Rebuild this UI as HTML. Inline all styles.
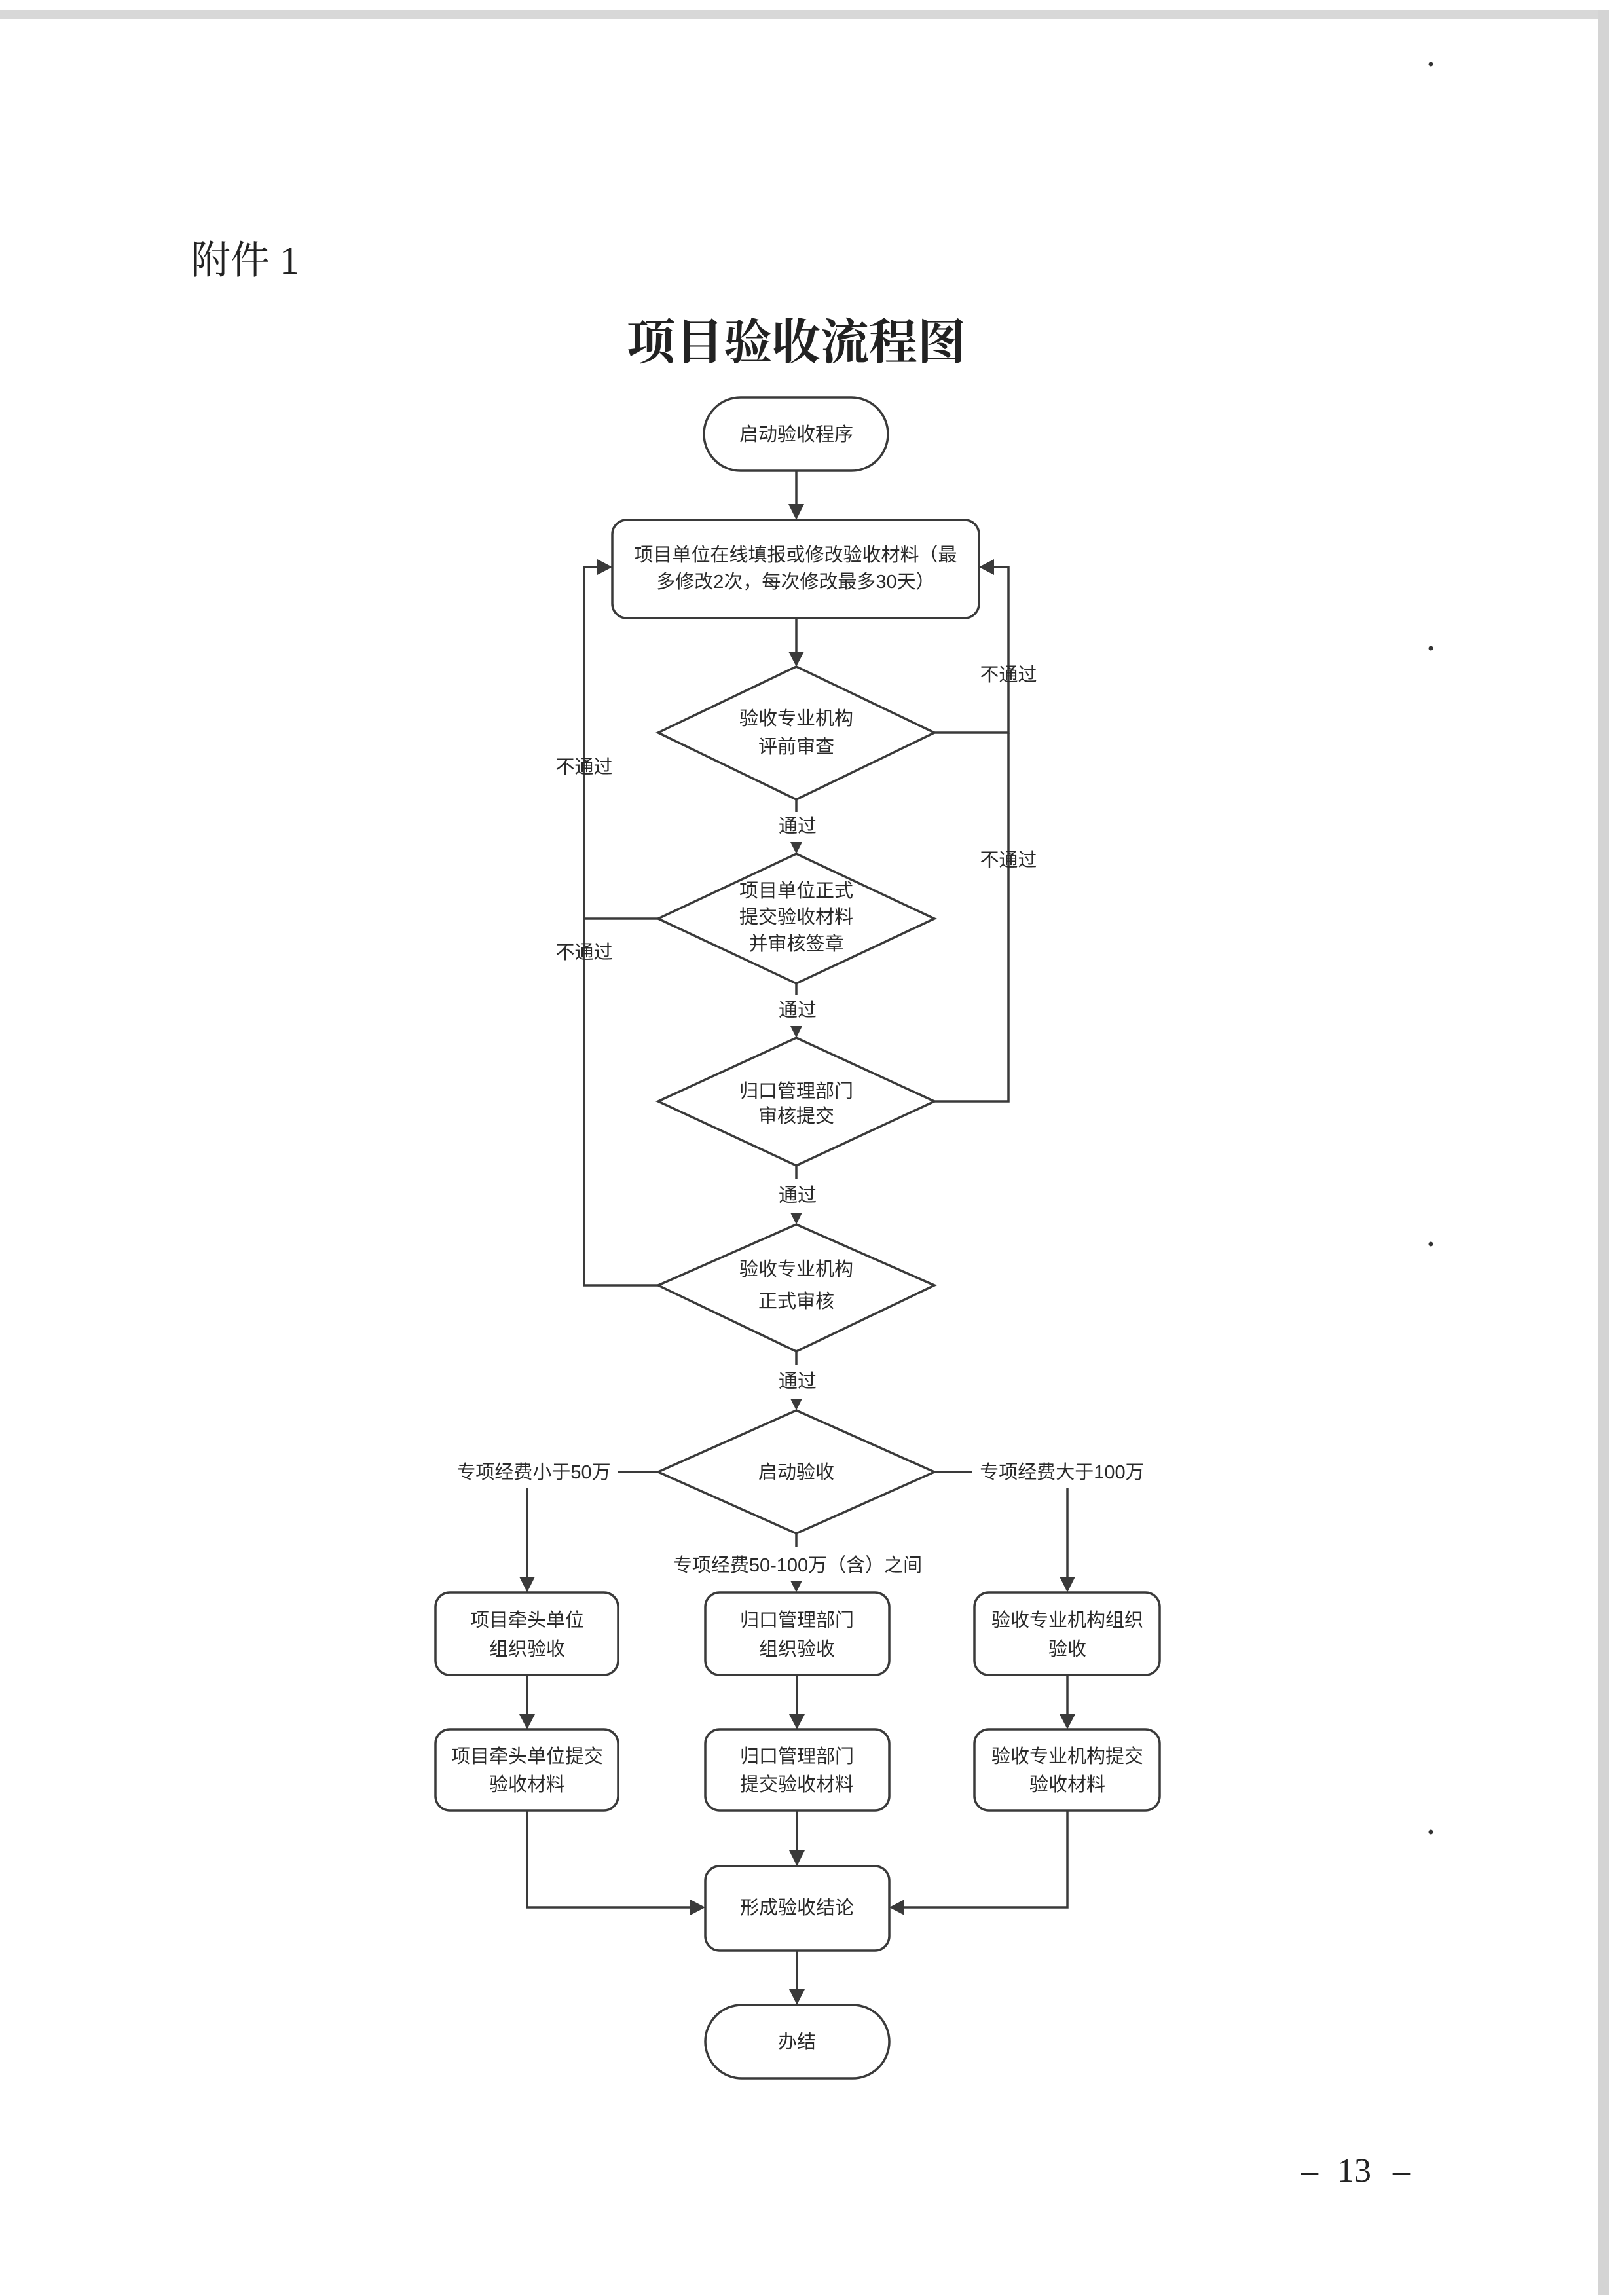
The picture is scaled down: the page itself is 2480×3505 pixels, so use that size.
<!DOCTYPE html>
<html><head><meta charset="utf-8"><style>
html,body{margin:0;padding:0;background:#fff}
svg{display:block}
</style></head><body>
<svg xmlns="http://www.w3.org/2000/svg" width="2480" height="3505" viewBox="0 0 2480 3505">
<rect x="0" y="0" width="2480" height="3505" fill="#fff"/>
<rect x="0" y="15" width="2445" height="14" fill="#d8d8d8"/>
<rect x="2441" y="15" width="16" height="3490" fill="#d4d4d4"/>
<circle cx="2185" cy="98" r="3.5" fill="#333"/>
<circle cx="2185" cy="990" r="3.5" fill="#333"/>
<circle cx="2185" cy="1900" r="3.5" fill="#333"/>
<circle cx="2185" cy="2798" r="3.5" fill="#333"/>

<g font-family="'Liberation Serif','Noto Serif CJK SC',serif" fill="#222">
<text x="292" y="418" font-size="60">附件 1</text>
<text x="1216" y="548" font-size="74" font-weight="bold" text-anchor="middle">项目验收流程图</text>
<text x="2000" y="3332" font-size="52" text-anchor="middle">–</text>
<text x="2068" y="3332" font-size="52" text-anchor="middle">13</text>
<text x="2140" y="3332" font-size="52" text-anchor="middle">–</text>
</g>

<g fill="none" stroke="#3a3a3a" stroke-width="3.5">
<rect x="1075" y="607" width="281" height="112" rx="56"/>
<rect x="935" y="794" width="560" height="150" rx="22"/>
<polygon points="1216,1018 1427,1119 1216,1221 1005,1119"/>
<polygon points="1216,1304 1427,1403 1216,1502 1005,1403"/>
<polygon points="1216,1585 1427,1682 1216,1780 1005,1682"/>
<polygon points="1216,1870 1427,1963 1216,2064 1005,1963"/>
<polygon points="1216,2154 1427,2248 1216,2342 1005,2248"/>
<rect x="665" y="2432" width="279" height="126" rx="22"/>
<rect x="1077" y="2432" width="281" height="126" rx="22"/>
<rect x="1488" y="2432" width="283" height="126" rx="22"/>
<rect x="665" y="2641" width="279" height="124" rx="22"/>
<rect x="1077" y="2641" width="281" height="124" rx="22"/>
<rect x="1488" y="2641" width="283" height="124" rx="22"/>
<rect x="1077" y="2850" width="281" height="129" rx="22"/>
<rect x="1077" y="3062" width="281" height="112" rx="56"/>
<line x1="1216" y1="719" x2="1216" y2="770"/>
<line x1="1216" y1="944" x2="1216" y2="995"/>
<line x1="1216" y1="1221" x2="1216" y2="1240"/>
<line x1="1216" y1="1502" x2="1216" y2="1520"/>
<line x1="1216" y1="1780" x2="1216" y2="1800"/>
<line x1="1216" y1="2064" x2="1216" y2="2085"/>
<line x1="1216" y1="2342" x2="1216" y2="2362"/>
<polyline points="1005,1403 892,1403 892,866 912,866"/>
<polyline points="1005,1963 892,1963 892,1403"/>
<polyline points="1427,1119 1540,1119 1540,866 1518,866"/>
<polyline points="1427,1682 1540,1682 1540,1119"/>
<line x1="944" y1="2248" x2="1005" y2="2248"/>
<line x1="1427" y1="2248" x2="1484" y2="2248"/>
<line x1="805" y1="2272" x2="805" y2="2410"/>
<line x1="1630" y1="2272" x2="1630" y2="2410"/>
<line x1="805" y1="2558" x2="805" y2="2620"/>
<line x1="1217" y1="2558" x2="1217" y2="2620"/>
<line x1="1630" y1="2558" x2="1630" y2="2620"/>
<line x1="1217" y1="2765" x2="1217" y2="2828"/>
<polyline points="805,2765 805,2913 1055,2913"/>
<polyline points="1630,2765 1630,2913 1380,2913"/>
<line x1="1217" y1="2979" x2="1217" y2="3040"/>
</g>
<g fill="#3a3a3a">
<polygon points="1204,770 1228,770 1216,794"/>
<polygon points="1204,995 1228,995 1216,1018"/>
<polygon points="1207,1286 1225,1286 1216,1304"/>
<polygon points="1207,1567 1225,1567 1216,1585"/>
<polygon points="1207,1852 1225,1852 1216,1870"/>
<polygon points="1207,2136 1225,2136 1216,2154"/>
<polygon points="1207,2414 1225,2414 1216,2432"/>
<polygon points="912,854 912,878 935,866"/>
<polygon points="1518,854 1518,878 1495,866"/>
<polygon points="793,2408 817,2408 805,2432"/>
<polygon points="1618,2408 1642,2408 1630,2432"/>
<polygon points="793,2618 817,2618 805,2641"/>
<polygon points="1205,2618 1229,2618 1217,2641"/>
<polygon points="1618,2618 1642,2618 1630,2641"/>
<polygon points="1205,2826 1229,2826 1217,2850"/>
<polygon points="1054,2901 1054,2925 1077,2913"/>
<polygon points="1381,2901 1381,2925 1358,2913"/>
<polygon points="1205,3038 1229,3038 1217,3062"/>
</g>

<g font-family="'Liberation Sans','Noto Sans CJK SC',sans-serif" font-size="29" fill="#2a2a2a" text-anchor="middle">
<text x="1216" y="673">启动验收程序</text>
<text x="1215" y="857">项目单位在线填报或修改验收材料（最</text>
<text x="1215" y="898">多修改2次，每次修改最多30天）</text>
<text x="1216" y="1107">验收专业机构</text>
<text x="1216" y="1150">评前审查</text>
<text x="1216" y="1370">项目单位正式</text>
<text x="1216" y="1410">提交验收材料</text>
<text x="1216" y="1451">并审核签章</text>
<text x="1216" y="1676">归口管理部门</text>
<text x="1216" y="1714">审核提交</text>
<text x="1216" y="1948">验收专业机构</text>
<text x="1216" y="1997">正式审核</text>
<text x="1216" y="2258">启动验收</text>
<text x="1218" y="1271">通过</text>
<text x="1218" y="1552">通过</text>
<text x="1218" y="1835">通过</text>
<text x="1218" y="2119">通过</text>
<text x="1540" y="1040">不通过</text>
<text x="1540" y="1323">不通过</text>
<text x="892" y="1181">不通过</text>
<text x="892" y="1464">不通过</text>
<text x="815" y="2258">专项经费小于50万</text>
<text x="1622" y="2258">专项经费大于100万</text>
<text x="1218" y="2400">专项经费50-100万（含）之间</text>
<text x="805" y="2484">项目牵头单位</text>
<text x="805" y="2528">组织验收</text>
<text x="1217" y="2484">归口管理部门</text>
<text x="1217" y="2528">组织验收</text>
<text x="1630" y="2484">验收专业机构组织</text>
<text x="1630" y="2528">验收</text>
<text x="805" y="2692">项目牵头单位提交</text>
<text x="805" y="2735">验收材料</text>
<text x="1217" y="2692">归口管理部门</text>
<text x="1217" y="2735">提交验收材料</text>
<text x="1630" y="2692">验收专业机构提交</text>
<text x="1630" y="2735">验收材料</text>
<text x="1217" y="2923">形成验收结论</text>
<text x="1217" y="3128">办结</text>
</g>
</svg>
</body></html>
